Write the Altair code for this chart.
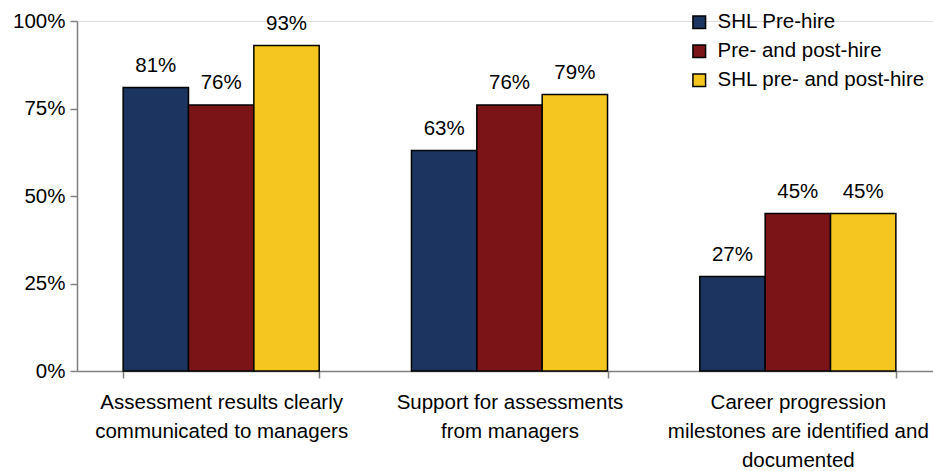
import altair as alt
import pandas as pd

categories = [
    "Assessment results clearly\ncommunicated to managers",
    "Support for assessments\nfrom managers",
    "Career progression\nmilestones are identified and\ndocumented",
]
series = ["SHL Pre-hire", "Pre- and post-hire", "SHL pre- and post-hire"]
values = {
    "SHL Pre-hire": [0.81, 0.63, 0.27],
    "Pre- and post-hire": [0.76, 0.76, 0.45],
    "SHL pre- and post-hire": [0.93, 0.79, 0.45],
}
colors = ["#1C3560", "#7B1416", "#F5C620"]
y_ticks = [0, 0.25, 0.5, 0.75, 1.0]

rows = []
for s in series:
    for c, v in zip(categories, values[s]):
        rows.append({"category": c, "series": s, "value": v})
df = pd.DataFrame(rows)

FONT = "Liberation Sans"
FS = 20.5

x = alt.X(
    "category:N",
    sort=categories,
    title=None,
    scale=alt.Scale(paddingInner=0.32, paddingOuter=0.16, range=[0, 865]),
    axis=alt.Axis(
        labelAngle=0,
        labelExpr="split(datum.label, '\\n')",
        labelFont=FONT,
        labelFontSize=FS,
        labelColor="#000000",
        labelLineHeight=29,
        labelPadding=14,
        labelBaseline="top",
        tickBand="extent",
        tickSize=7,
        tickColor="#808080",
        domainColor="#808080",
        domainWidth=1.5,
        tickWidth=1.5,
        grid=False,
        labelLimit=400,
    ),
)
xo = alt.XOffset("series:N", sort=series, scale=alt.Scale(paddingInner=0, paddingOuter=0))
y = alt.Y(
    "value:Q",
    title=None,
    scale=alt.Scale(domain=[0, 1], nice=False),
    axis=alt.Axis(
        values=y_ticks,
        format=".0%",
        labelFont=FONT,
        labelFontSize=FS,
        labelColor="#000000",
        labelPadding=5,
        tickSize=7,
        tickColor="#808080",
        domainColor="#808080",
        domainWidth=1.5,
        tickWidth=1.5,
        grid=False,
    ),
)

bars = alt.Chart(df).mark_bar(stroke="#000000", strokeWidth=1.5).encode(
    x=x,
    xOffset=xo,
    y=y,
    color=alt.Color(
        "series:N",
        sort=series,
        scale=alt.Scale(domain=series, range=colors),
        legend=alt.Legend(
            title=None,
            orient="none",
            legendX=612,
            legendY=-9,
            symbolType="square",
            symbolSize=160,
            symbolStrokeColor="#000000",
            symbolStrokeWidth=1.5,
            labelFont=FONT,
            labelFontSize=FS,
            labelColor="#000000",
            rowPadding=8,
            labelOffset=8,
            labelLimit=300,
        ),
    ),
)

labels = alt.Chart(df).mark_text(
    baseline="bottom", dy=-12, font=FONT, fontSize=FS, color="#000000"
).encode(
    x=alt.X("category:N", sort=categories),
    xOffset=xo,
    y=alt.Y("value:Q"),
    text=alt.Text("value:Q", format=".0%"),
)

chart = (
    alt.layer(bars, labels)
    .properties(
        width=856,
        height=350,
        autosize=alt.AutoSizeParams(type="none"),
        padding={"left": 77, "top": 21, "right": 0, "bottom": 100},
    )
    .configure_view(stroke=None)
    .configure(background="#ffffff")
)

chart.save("out.html", embed_options={"renderer": "svg", "actions": False})
